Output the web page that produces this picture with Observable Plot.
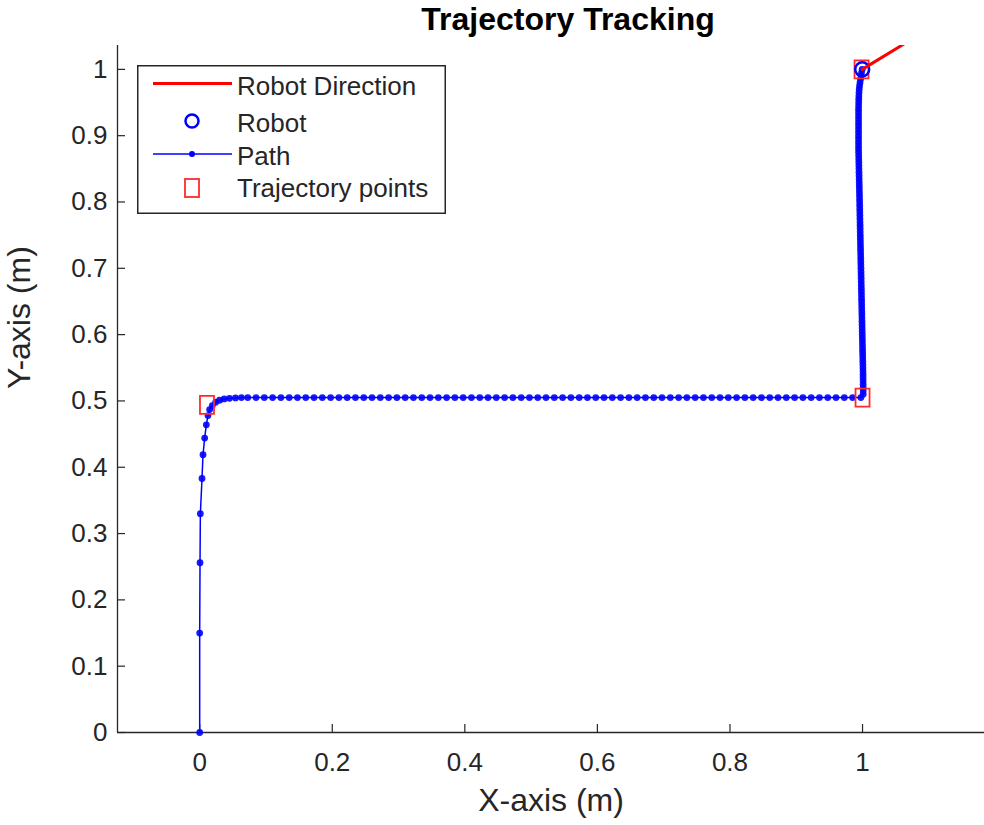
<!DOCTYPE html>
<html>
<head>
<meta charset="utf-8">
<script src="https://cdn.jsdelivr.net/npm/d3@7"></script>
<script src="https://cdn.jsdelivr.net/npm/@observablehq/plot@0.6"></script>
<style>
  body { margin: 0; background: white; }
  #wrap { position: relative; width: 984px; height: 825px; font-family: "Liberation Sans", Arial, sans-serif; }
  #legend { position: absolute; left: 137px; top: 65px; }
</style>
</head>
<body>
<div id="wrap"></div>
<script>
// ---------- data ----------
const xTicks = [0, 0.2, 0.4, 0.6, 0.8, 1];
const yTicks = [0, 0.1, 0.2, 0.3, 0.4, 0.5, 0.6, 0.7, 0.8, 0.9, 1];

// first leg: rise along x ≈ 0 and the turn
const risePath = [
  [0, 0], [0, 0.150], [0.0005, 0.256], [0.001, 0.330], [0.0035, 0.383], [0.005, 0.419],
  [0.0075, 0.444], [0.010, 0.464], [0.0125, 0.478], [0.015, 0.487], [0.019, 0.493],
  [0.024, 0.498], [0.030, 0.501], [0.037, 0.503], [0.045, 0.504], [0.054, 0.5045], [0.063, 0.505]
];
// second leg: horizontal at y ≈ 0.505
const crossLevel = 0.505;
const crossX = [
  0.0725, 0.085, 0.0975, 0.11, 0.1225, 0.135, 0.1475, 0.16, 0.1725, 0.185, 0.1975, 0.21,
  0.2225, 0.235, 0.2475, 0.26, 0.2725, 0.285, 0.2975, 0.31, 0.3225, 0.335, 0.3475, 0.36,
  0.3725, 0.385, 0.3975, 0.41, 0.4225, 0.435, 0.4475, 0.46, 0.4725, 0.485, 0.4975, 0.51,
  0.5225, 0.535, 0.5475, 0.56, 0.5725, 0.585, 0.5975, 0.61, 0.6225, 0.635, 0.6475, 0.66,
  0.6725, 0.685, 0.6975, 0.71, 0.7225, 0.735, 0.7475, 0.76, 0.7725, 0.785, 0.7975, 0.81,
  0.8225, 0.835, 0.8475, 0.86, 0.8725, 0.885, 0.8975, 0.91, 0.9225, 0.935, 0.9475, 0.96,
  0.9725, 0.985, 0.9975
];
// third leg: climb along x ≈ 1 (dense samples)
const climbPath = [
  [1.0010, 0.510], [1.0010, 0.515], [1.0010, 0.520], [1.0009, 0.525], [1.0009, 0.530],
  [1.0008, 0.535], [1.0008, 0.540], [1.0007, 0.545], [1.0006, 0.550], [1.0005, 0.555],
  [1.0004, 0.560], [1.0003, 0.565], [1.0002, 0.570], [1.0001, 0.575], [1.0000, 0.580],
  [0.9999, 0.585], [0.9998, 0.590], [0.9997, 0.595], [0.9996, 0.600], [0.9995, 0.605],
  [0.9994, 0.610], [0.9993, 0.615], [0.9992, 0.620], [0.9991, 0.625], [0.9990, 0.630],
  [0.9989, 0.635], [0.9988, 0.640], [0.9987, 0.645], [0.9986, 0.650], [0.9985, 0.655],
  [0.9984, 0.660], [0.9983, 0.665], [0.9982, 0.670], [0.9981, 0.675], [0.9980, 0.680],
  [0.9979, 0.685], [0.9978, 0.690], [0.9977, 0.695], [0.9976, 0.700], [0.9975, 0.705],
  [0.9974, 0.710], [0.9973, 0.715], [0.9972, 0.720], [0.9971, 0.725], [0.9970, 0.730],
  [0.9969, 0.735], [0.9968, 0.740], [0.9967, 0.745], [0.9966, 0.750], [0.9965, 0.755],
  [0.9964, 0.760], [0.9963, 0.765], [0.9962, 0.770], [0.9961, 0.775], [0.9960, 0.780],
  [0.9959, 0.785], [0.9958, 0.790], [0.9957, 0.795], [0.9956, 0.800], [0.9955, 0.805],
  [0.9954, 0.810], [0.9953, 0.815], [0.9952, 0.820], [0.9951, 0.825], [0.9950, 0.830],
  [0.9949, 0.835], [0.9948, 0.840], [0.9947, 0.845], [0.9946, 0.850], [0.9945, 0.855],
  [0.9944, 0.860], [0.9943, 0.865], [0.9942, 0.870], [0.9941, 0.875], [0.9940, 0.880],
  [0.9940, 0.885], [0.9940, 0.890], [0.9940, 0.895], [0.9940, 0.900], [0.9940, 0.905],
  [0.9940, 0.910], [0.9940, 0.915], [0.9940, 0.920], [0.9940, 0.925], [0.9940, 0.930],
  [0.9940, 0.935], [0.9940, 0.940], [0.9941, 0.945], [0.9942, 0.950], [0.9943, 0.955],
  [0.9945, 0.960], [0.9947, 0.965], [0.9950, 0.970], [0.9955, 0.975], [0.9962, 0.980],
  [0.9970, 0.985], [0.9978, 0.990], [0.9985, 0.995], [0.9995, 1.000]
];
const trajectoryPoints = [[0.011, 0.494], [1.0, 0.505], [0.9985, 1.0]];
const robotPosition = [[0.9995, 1.0]];
const robotDirection = [[0.9995, 1.0], [1.085, 1.052]];

const titleText = "Trajectory Tracking";
const xLabel = "X-axis (m)";
const yLabel = "Y-axis (m)";
const legendLabels = ["Robot Direction", "Robot", "Path", "Trajectory points"];

// ---------- build ----------
const pathPoints = [...risePath, ...crossX.map(x => [x, crossLevel]), ...climbPath];

const W = 984, H = 825;
const mL = 117, mR = 0, mT = 45, mB = 93;
const plotW = W - mL - mR, plotH = H - mT - mB;
const axisColor = "#262626";
const rectSymbol = { draw(ctx) { ctx.rect(-7, -9, 14, 18); } };

const chart = Plot.plot({
  width: W, height: H,
  marginLeft: mL, marginRight: mR, marginTop: mT, marginBottom: mB,
  style: { fontFamily: '"Liberation Sans", Arial, sans-serif', background: "white", overflow: "visible" },
  x: { domain: [-0.124, 1.184] },
  y: { domain: [0, 1.036] },
  marks: [
    // axes
    Plot.axisX(xTicks, { tickSize: 0, tickPadding: 20, fontSize: 26, color: axisColor, label: null, tickFormat: d => String(d) }),
    Plot.axisY(yTicks, { tickSize: 0, tickPadding: 10, fontSize: 26, color: axisColor, label: null, tickFormat: d => String(d) }),
    Plot.tickX(xTicks, { x: d => d, insetTop: plotH - 8, stroke: axisColor, strokeWidth: 1.2 }),
    Plot.tickY(yTicks, { y: d => d, insetRight: plotW - 8, stroke: axisColor, strokeWidth: 1.2 }),
    Plot.ruleY([0], { stroke: axisColor, strokeWidth: 1.3 }),
    Plot.ruleX([-0.124], { stroke: axisColor, strokeWidth: 1.3 }),
    // path
    Plot.line(pathPoints, { x: d => d[0], y: d => d[1], stroke: "#0000ff", strokeWidth: 1.5 }),
    Plot.dot(pathPoints, { x: d => d[0], y: d => d[1], r: 3.4, fill: "#0000ff", stroke: "none", fillOpacity: 0.9 }),
    // trajectory points
    Plot.dot(trajectoryPoints, { x: d => d[0], y: d => d[1], symbol: rectSymbol, stroke: "#ff2a2a", strokeWidth: 1.8, fill: "none" }),
    // robot
    Plot.dot(robotPosition, { x: d => d[0], y: d => d[1], r: 7, stroke: "#0000ff", strokeWidth: 2.5, fill: "none" }),
    Plot.line(robotDirection, { x: d => d[0], y: d => d[1], stroke: "#ff0000", strokeWidth: 3, clip: true }),
    // texts
    Plot.text([titleText], { frameAnchor: "top", lineAnchor: "middle", dy: -26, dx: 17, fontSize: 32, fontWeight: "bold", fill: "#000" }),
    Plot.text([xLabel], { frameAnchor: "bottom", lineAnchor: "middle", dy: 68, fontSize: 32, fill: axisColor }),
    Plot.text([yLabel], { frameAnchor: "left", lineAnchor: "middle", dx: -98, rotate: -90, fontSize: 32, fill: axisColor })
  ]
});

const wrap = document.getElementById("wrap");
wrap.appendChild(chart);

// legend overlay
const ns = "http://www.w3.org/2000/svg";
const lg = document.createElementNS(ns, "svg");
lg.setAttribute("id", "legend");
lg.setAttribute("width", 309);
lg.setAttribute("height", 149);
const add = (tag, attrs, text) => {
  const el = document.createElementNS(ns, tag);
  for (const k in attrs) el.setAttribute(k, attrs[k]);
  if (text) el.textContent = text;
  lg.appendChild(el);
  return el;
};
add("rect", { x: 0.75, y: 0.75, width: 307.5, height: 147.5, fill: "white", stroke: axisColor, "stroke-width": 1.5 });
add("line", { x1: 16, x2: 95, y1: 18.5, y2: 18.5, stroke: "#ff0000", "stroke-width": 3 });
add("circle", { cx: 55, cy: 56, r: 6.5, fill: "none", stroke: "#0000ff", "stroke-width": 2.5 });
add("line", { x1: 16, x2: 95, y1: 89, y2: 89, stroke: "#0000ff", "stroke-width": 1.5 });
add("circle", { cx: 55, cy: 89, r: 3, fill: "#0000ff" });
add("rect", { x: 48, y: 114, width: 14, height: 18, fill: "none", stroke: "#ff2a2a", "stroke-width": 1.8 });
const ty = [29.5, 66.5, 100, 131.5];
legendLabels.forEach((t, i) => add("text", { x: 100, y: ty[i], "font-size": 26, fill: axisColor, "font-family": '"Liberation Sans", Arial, sans-serif' }, t));
wrap.appendChild(lg);
</script>
</body>
</html>
